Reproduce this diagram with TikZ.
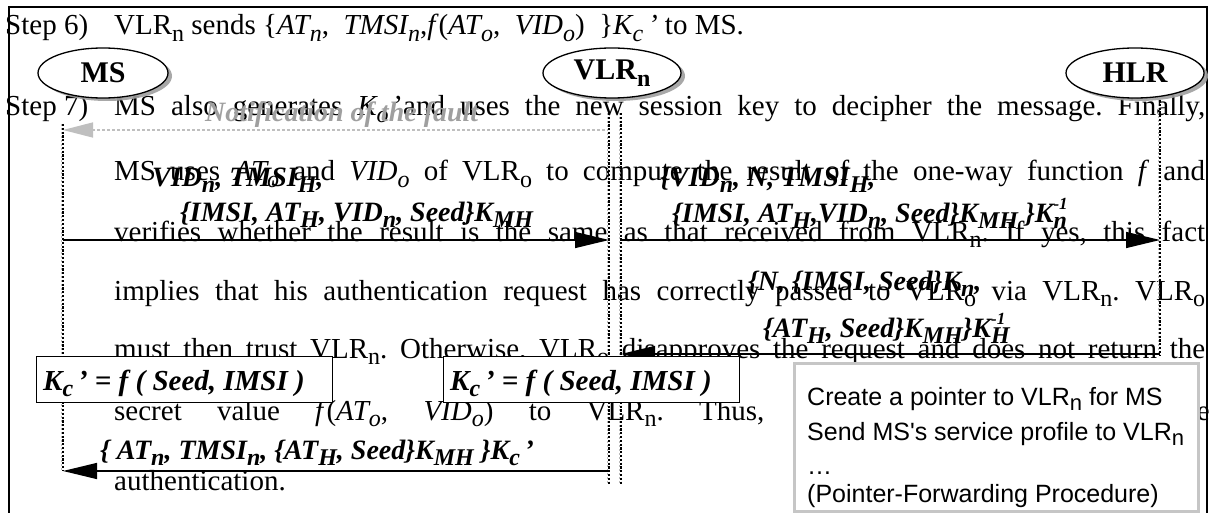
\documentclass[tikz,border=0pt]{standalone}
\usepackage{fontspec}
\setmainfont{Liberation Serif}
\newfontfamily\arialfont{Liberation Sans}
\usetikzlibrary{arrows.meta,shapes.geometric,shadows}
\newcommand{\tsb}[1]{\raisebox{-0.5ex}{\fontsize{24}{24}\selectfont #1}}
\newcommand{\lsb}[1]{\raisebox{-0.5ex}{\fontsize{24}{24}\selectfont #1}}
\newcommand{\lsp}[1]{\raisebox{1.0ex}{\fontsize{17}{17}\selectfont #1}}
\newcommand{\asb}[1]{\raisebox{-0.4ex}{\fontsize{22}{22}\selectfont #1}}
\frenchspacing
\begin{document}
\begin{tikzpicture}[x=1pt,y=-1pt,
  body/.style={inner sep=0pt, anchor=base west, font=\fontsize{29}{32}\selectfont},
  lab/.style={inner sep=0pt, anchor=base west, font=\fontsize{28}{32}\selectfont\bfseries\itshape},
  faultlab/.style={lab, text=gray!75},
  ent/.style={ellipse, draw, line width=1.3pt, fill=white, minimum height=50pt, inner sep=0pt,
    font=\fontsize{30}{32}\selectfont\bfseries,
    drop shadow={shadow xshift=4pt, shadow yshift=-3pt, fill=gray!75, opacity=0.9}},
  kbox/.style={draw, line width=1pt, fill=white, minimum width=296pt, minimum height=46pt,
    inner sep=0pt, anchor=north west},
  gbox/.style={draw=gray!45, line width=3pt, fill=white, minimum width=404pt, minimum height=148pt,
    inner sep=0pt, anchor=north west},
  atext/.style={inner sep=0pt, anchor=base west, font=\arialfont\fontsize{25}{28}\selectfont},
  lifeblack/.style={line width=1.8pt, dash pattern=on 2.2pt off 1.6pt},
  lifegray/.style={gray!55, line width=0.6pt, dash pattern=on 2pt off 2pt},
  msg/.style={line width=1.4pt, -{Triangle[length=34pt,width=16pt]}},
  fault/.style={gray!50, line width=1.4pt, dash pattern=on 3pt off 2pt,
    -{Triangle[length=30pt,width=15pt]}}]
\useasboundingbox (0,0) rectangle (1222,513);
\fill[white] (0,0) rectangle (1222,513);
% frame
\draw[line width=1.5pt] (9,513) -- (9,7) -- (1207,7) -- (1207,513);
% background paragraph
\node[body] (s6) at (5,35) {Step 6)};
\node[body] (l1) at (114,35) {VLR\tsb{n} sends \{\textit{AT\tsb{n}},\enspace\textit{TMSI\tsb{n}},\textit{f}(\textit{AT\tsb{o}},\enspace\textit{VID\tsb{o}})\enspace\}\textit{K\tsb{c}}\,\textit{'} to MS.};
\node[body] (s7) at (5,116) {Step 7)};
\node[body] (l2) at (114,116) {\hbox to 1091pt{MS also generates \textit{K\tsb{o}}\,'and uses the new session key to decipher the message. Finally,}};
\node[body] (l3) at (114,181) {\hbox to 1091pt{MS uses \textit{AT\tsb{o}} and \textit{VID\tsb{o}} of VLR\tsb{o} to compute the result of the one-way function \textit{f} and}};
\node[body] (l4) at (114,241) {\hbox to 1091pt{verifies whether the result is the same as that received from VLR\tsb{n}. If yes, this fact}};
\node[body] (l5) at (114,300) {\hbox to 1091pt{implies that his authentication request has correctly passed to VLR\tsb{o} via VLR\tsb{n}. VLR\tsb{o}}};
\node[body] (l6) at (114,358) {\hbox to 1091pt{must then trust VLR\tsb{n}. Otherwise, VLR\tsb{o} disapproves the request and does not return the}};
\node[body] (l7) at (114,420) {\hbox to 708pt{secret value \textit{f}(\textit{AT\tsb{o}}, \textit{VID\tsb{o}}) to VLR\tsb{n}. Thus, th}};
\node[body, anchor=base east] (l7b) at (1210,420) {he};
\node[body] (l8) at (114,490) {authentication.};
% lifelines
\coordinate (msT) at (63,124);   \coordinate (msB) at (63,471);
\coordinate (vaT) at (609,113);  \coordinate (vaB) at (609,484);
\coordinate (vbT) at (621,113);  \coordinate (vbB) at (621,484);
\coordinate (hT) at (1160,100);  \coordinate (hB) at (1160,356);
\foreach \a/\b in {msT/msB, vaT/vaB, vbT/vbB, hT/hB}{
  \draw[lifegray] ([xshift=-1.5pt]\a) -- ([xshift=-1.5pt]\b);
  \draw[lifeblack] (\a) -- (\b);
}
% message end points
\coordinate (fS) at (605,130); \coordinate (fE) at (63,130);
\coordinate (m1S) at (63,240);  \coordinate (m1E) at (609,240);
\coordinate (m2S) at (621,240); \coordinate (m2E) at (1160,240);
\coordinate (m3S) at (1160,354); \coordinate (m3E) at (621,354);
\coordinate (m4S) at (609,471); \coordinate (m4E) at (63,471);
\draw[fault] (fS) -- (fE);
\draw[msg] (m1S) -- (m1E);
\draw[msg] (m2S) -- (m2E);
\draw[msg] (m3S) -- (m3E);
\draw[msg] (m4S) -- (m4E);
% labels
\node[faultlab] (fl) at (205,122) {Notification of the fault};
\node[lab] (a1) at (152,186) {VID\lsb{n}, TMSI\lsb{H},};
\node[lab] (a2) at (180,221) {\{IMSI, AT\lsb{H}, VID\lsb{n}, Seed\}K\lsb{MH}};
\node[lab] (b1) at (660,186) {\{VID\lsb{n}, N, TMSI\lsb{H},};
\node[lab] (b2) at (672,222) {\{IMSI, AT\lsb{H},VID\lsb{n}, Seed\}K\lsb{MH} \}K\rlap{\lsp{-1}}\lsb{n}};
\node[lab] (c1) at (748,290) {\{N, \{IMSI, Seed\}K\lsb{n},};
\node[lab] (c2) at (763,337) {\{AT\lsb{H}, Seed\}K\lsb{MH}\}K\rlap{\lsp{-1}}\lsb{H}};
\node[lab] (d1) at (100,459) {\{ AT\lsb{n}, TMSI\lsb{n}, \{AT\lsb{H}, Seed\}K\lsb{MH} \}K\lsb{c}\,'};
% entities
\node[ent, minimum width=130pt] (MS) at (103,73) {MS};
\node[ent, minimum width=138pt] (VLR) at (612,73) {VLR\lsb{n}};
\node[ent, minimum width=138pt] (HLR) at (1135,73) {HLR};
% key boxes
\node[kbox] (k1) at (36,356) {};
\node[lab, font=\fontsize{29}{32}\selectfont\bfseries\itshape] (k1t) at (43,390) {K\lsb{c}\,' = f ( Seed, IMSI )};
\node[kbox] (k2) at (443,356) {};
\node[lab, font=\fontsize{29}{32}\selectfont\bfseries\itshape] (k2t) at (450,390) {K\lsb{c}\,' = f ( Seed, IMSI )};
% HLR procedure box
\node[gbox] (g) at (793,362) {};
\node[atext] (g1) at (807,405) {Create a pointer to VLR\asb{n} for MS};
\node[atext] (g2) at (807,440) {Send MS's service profile to VLR\asb{n}};
\node[atext] (g3) at (807,474) {\dots};
\node[atext] (g4) at (807,502) {(Pointer-Forwarding Procedure)};
\end{tikzpicture}
\end{document}
